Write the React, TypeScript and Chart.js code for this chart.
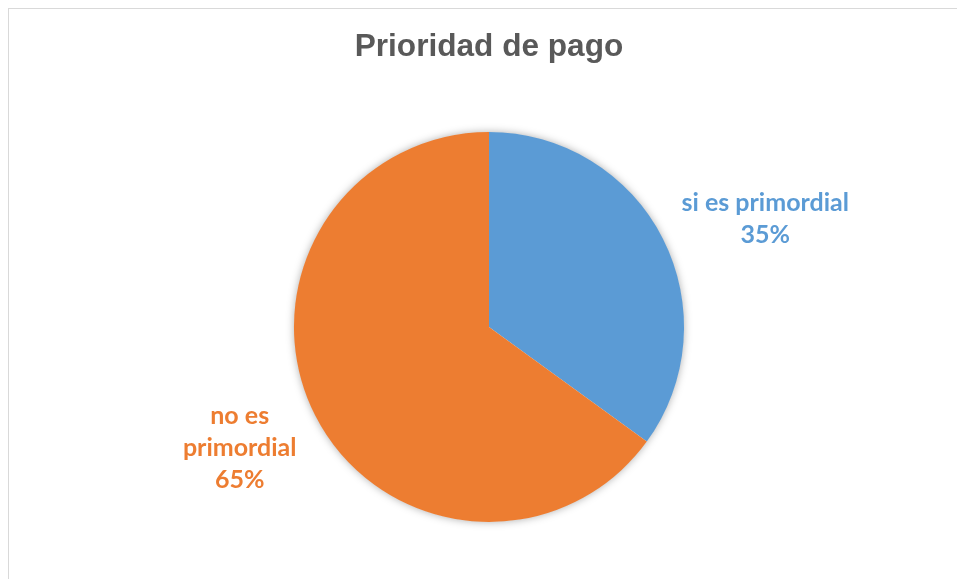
import React, { useEffect, useRef } from "react";
import { Chart, registerables } from "chart.js";

Chart.register(...registerables);

const TITLE = "Prioridad de pago";
const categories = ["si es primordial", "no es primordial"];
const labelLines = [["si es primordial"], ["no es", "primordial"]];
const values = [35, 65];
const colors = ["#5B9BD5", "#ED7D31"];

const LABEL_FONT = "bold 25px Lato";
const LINE_H = 32;
const GAP = 21;

const shadowPlugin = {
  id: "pieShadow",
  beforeDatasetsDraw(chart: any) {
    const meta = chart.getDatasetMeta(0);
    const arc = meta.data[0];
    if (!arc) return;
    const { ctx } = chart;
    ctx.save();
    ctx.shadowColor = "rgba(0,0,0,0.35)";
    ctx.shadowBlur = 9;
    ctx.shadowOffsetX = 0;
    ctx.shadowOffsetY = 0;
    ctx.fillStyle = "#ffffff";
    ctx.beginPath();
    ctx.arc(arc.x, arc.y, arc.outerRadius - 0.5, 0, Math.PI * 2);
    ctx.fill();
    ctx.restore();
  },
};

const labelPlugin = {
  id: "pieLabels",
  afterDatasetsDraw(chart: any) {
    const meta = chart.getDatasetMeta(0);
    const data = chart.data.datasets[0].data as number[];
    const total = data.reduce((a, b) => a + b, 0);
    const { ctx } = chart;
    ctx.save();
    ctx.font = LABEL_FONT;
    ctx.textAlign = "center";
    ctx.textBaseline = "middle";
    meta.data.forEach((arc: any, i: number) => {
      const mid = (arc.startAngle + arc.endAngle) / 2;
      const dx = Math.cos(mid);
      const dy = Math.sin(mid);
      const lines = [...labelLines[i], Math.round((data[i] / total) * 100) + "%"];
      const w = Math.max(...lines.map((l) => ctx.measureText(l).width));
      const h = lines.length * LINE_H;
      const ax = arc.x + dx * (arc.outerRadius + GAP);
      const ay = arc.y + dy * (arc.outerRadius + GAP);
      const cx = ax + Math.sign(dx) * (w / 2);
      const cy = ay + dy * h * 0.45 + 3;
      ctx.fillStyle = colors[i];
      lines.forEach((l, k) => {
        ctx.fillText(l, cx, cy - h / 2 + LINE_H * (k + 0.5));
      });
    });
    ctx.restore();
  },
};

export default function App() {
  const ref = useRef<HTMLCanvasElement | null>(null);

  useEffect(() => {
    document.documentElement.style.overflow = "hidden";
    document.body.style.overflow = "hidden";
    if (!ref.current) return;
    const chart = new Chart(ref.current, {
      type: "pie",
      data: {
        labels: categories,
        datasets: [
          {
            data: values,
            backgroundColor: colors,
            borderWidth: 0,
            hoverOffset: 0,
            offset: 0,
          },
        ],
      },
      options: {
        responsive: false,
        animation: false,
        events: [],
        layout: { padding: { left: 12, right: 0, top: 0, bottom: 49 } },
        plugins: {
          legend: { display: false },
          tooltip: { enabled: false },
          title: {
            display: true,
            text: TITLE,
            color: "#595959",
            font: { family: "'Liberation Sans', Arial, sans-serif", size: 31.6, weight: "bold" },
            padding: { top: 19, bottom: 66 },
          },
        },
      },
      plugins: [shadowPlugin, labelPlugin],
    });
    return () => chart.destroy();
  }, []);

  return (
    <div
      style={{
        position: "absolute",
        left: 8,
        top: 8,
        width: 1200,
        height: 800,
        boxSizing: "border-box",
        borderTop: "1px solid #d9d9d9",
        borderLeft: "1px solid #d9d9d9",
        background: "#ffffff",
      }}
    >
      <canvas ref={ref} width={948} height={562} style={{ display: "block", width: 948, height: 562 }} />
    </div>
  );
}
